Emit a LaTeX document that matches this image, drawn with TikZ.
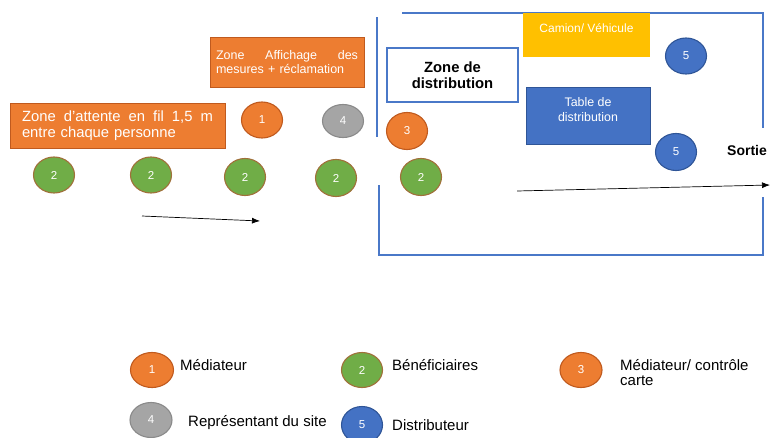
\documentclass[tikz,border=0pt]{standalone}
\usepackage{fontspec}
\setmainfont{Liberation Sans}
\usetikzlibrary{shapes.geometric,arrows.meta}
\definecolor{orF}{HTML}{ED7D31}
\definecolor{orD}{HTML}{C05A1E}
\definecolor{grF}{HTML}{70AD47}
\definecolor{grD}{HTML}{A0703A}
\definecolor{gyF}{HTML}{A5A5A5}
\definecolor{gyD}{HTML}{8A8A8A}
\definecolor{blF}{HTML}{4472C4}
\definecolor{blD}{HTML}{2F5597}
\definecolor{yeF}{HTML}{FFC000}
\definecolor{wallC}{HTML}{4A78C8}
\begin{document}
\begin{tikzpicture}[x=1pt,y=-1pt,
  pers/.style={ellipse, minimum width=41pt, minimum height=36pt, inner sep=0pt, line width=1.1pt, text=white, font=\fontsize{11.5}{13}\selectfont},
  orP/.style={pers, fill=orF, draw=orD},
  grP/.style={pers, fill=grF, draw=grD},
  gyP/.style={pers, fill=gyF, draw=gyD},
  blP/.style={pers, fill=blF, draw=blD},
  wall/.style={draw=wallC, line width=1.8pt},
  flow/.style={-{Latex[length=8pt,width=6pt]}, line width=0.7pt, black},
  legtxt/.style={anchor=west, inner sep=0pt, font=\fontsize{15}{18}\selectfont},
  obox/.style={rectangle, fill=orF, draw=orD, line width=0.8pt, text=white, align=left},
]
\clip (0,0) rectangle (770,437);
\fill[white] (0,0) rectangle (770,437);

% walls
\draw[wall] (377,17) -- (377,137);
\draw[wall] (402,13) -- (763,13) -- (763,128);
\draw[wall] (379,185) -- (379,255) -- (763,255) -- (763,197);

% orange zones
\node[obox, minimum width=215pt, minimum height=45pt, text width=191pt,
      font=\fontsize{14.8}{16.5}\selectfont] (attente) at (117.5,125.5)
  {\makebox[191pt][l]{Zone\hfill d'attente\hfill en\hfill fil\hfill 1,5\hfill m}\\entre chaque personne};
\node[obox, minimum width=154pt, minimum height=50pt, text width=142pt,
      font=\fontsize{12.5}{14}\selectfont] (affichage) at (287,62)
  {\makebox[142pt][l]{Zone\hfill Affichage\hfill des}\\mesures + réclamation};

% distribution zone
\node[rectangle, draw=wallC, line width=1.2pt, fill=white, minimum width=131pt, minimum height=54pt,
      align=center, font=\bfseries\fontsize{14.8}{15.5}\selectfont] (zdist) at (452.5,75)
  {Zone de\\distribution};
\node[rectangle, fill=yeF, minimum width=127pt, minimum height=44pt] (camion) at (586.5,35) {};
\node[text=white, font=\fontsize{12}{14}\selectfont, inner sep=0pt] (camionT) at (586.5,28) {Camion/ Véhicule};
\node[rectangle, fill=blF, draw=blD, line width=0.6pt, minimum width=124pt, minimum height=57pt] (table) at (588,115.5) {};
\node[text=white, align=center, font=\fontsize{12.4}{15}\selectfont, inner sep=0pt] (tableT) at (588,109.5) {Table de\\distribution};
\node[font=\bfseries\fontsize{14}{16}\selectfont, inner sep=0pt, anchor=west] (sortie) at (727,150) {Sortie};

% persons
\node[orP] (p1) at (262,120) {1};
\node[gyP, minimum height=33pt] (p4) at (343,121) {4};
\node[orP, minimum height=37pt] (p3) at (407,131) {3};
\node[grP] (g1) at (54,175) {2};
\node[grP] (g2) at (151,175) {2};
\node[grP, minimum height=37pt] (g3) at (245,177) {2};
\node[grP, minimum height=37pt] (g4) at (336,178) {2};
\node[grP, minimum height=37pt] (g5) at (421,177) {2};
\node[blP] (d1) at (686,56) {5};
\node[blP, minimum height=37pt] (d2) at (676,152) {5};

% flow arrows
\coordinate (a1s) at (142,216);
\coordinate (a1e) at (260,221);
\coordinate (a2s) at (517,191);
\coordinate (a2e) at (770,185);
\draw[flow] (a1s) -- (a1e);
\draw[flow] (a2s) -- (a2e);

% legend
\node[orP, minimum height=35pt, minimum width=43pt] (l1) at (152,370) {1};
\node[legtxt] (l1T) at (180,365) {Médiateur};
\node[grP, minimum height=35pt] (l2) at (362,370) {2};
\node[legtxt] (l2T) at (392,365) {Bénéficiaires};
\node[orP, minimum height=35pt, minimum width=42pt] (l3) at (581,370) {3};
\node[legtxt, anchor=north west, align=left, font=\fontsize{15}{15}\selectfont] (l3T) at (620,359) {Médiateur/ contrôle\\carte};
\node[gyP, minimum height=35pt, minimum width=42pt] (l4) at (151,420) {4};
\node[legtxt] (l4T) at (188,423) {Représentant du site};
\node[blP, minimum height=37pt] (l5) at (362,425) {5};
\node[legtxt] (l5T) at (392,425) {Distributeur};
\end{tikzpicture}
\end{document}
